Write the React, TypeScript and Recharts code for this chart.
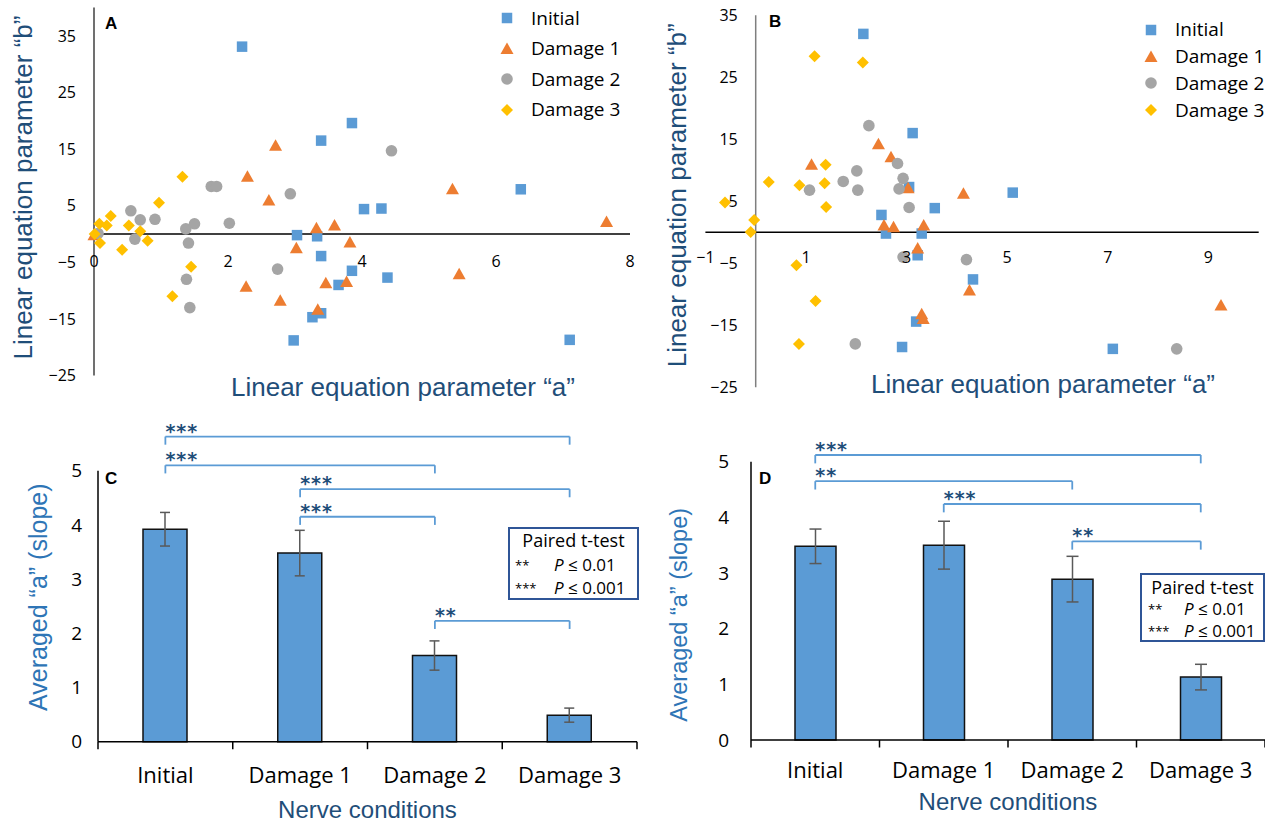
import React from "react";
import {
  Bar,
  BarChart,
  ErrorBar,
  Label,
  Legend,
  ReferenceDot,
  ReferenceLine,
  Scatter,
  ScatterChart,
  XAxis,
  YAxis,
} from "recharts";

type Pt = { a: number; b: number };
type Bracket = { from: string; to: string; level: number; stars: string };

const seriesNames = ["Initial", "Damage 1", "Damage 2", "Damage 3"];
const seriesColors = ["#5B9BD5", "#ED7D31", "#A5A5A5", "#FFC000"];
const seriesMarkers = ["square", "triangle", "circle", "diamond"];

// panel A scatter (a = slope, b = intercept)
const panelAInitial: Pt[] = [
  { a: 2.21, b: 33.1 }, { a: 3.85, b: 19.6 }, { a: 3.39, b: 16.5 }, { a: 4.03, b: 4.4 },
  { a: 4.29, b: 4.5 }, { a: 6.37, b: 7.9 }, { a: 3.03, b: -0.2 }, { a: 3.33, b: -0.4 },
  { a: 3.39, b: -3.9 }, { a: 3.85, b: -6.5 }, { a: 4.38, b: -7.7 }, { a: 3.65, b: -9.0 },
  { a: 3.26, b: -14.7 }, { a: 3.39, b: -14.0 }, { a: 2.98, b: -18.8 }, { a: 7.1, b: -18.7 },
];
const panelADamage1: Pt[] = [
  { a: 0.0, b: -0.2 }, { a: 2.71, b: 15.6 }, { a: 2.29, b: 10.1 }, { a: 2.61, b: 5.9 },
  { a: 5.35, b: 7.9 }, { a: 7.65, b: 2.1 }, { a: 3.32, b: 1.0 }, { a: 3.59, b: 1.5 },
  { a: 3.82, b: -1.5 }, { a: 3.02, b: -2.5 }, { a: 5.45, b: -7.1 }, { a: 2.27, b: -9.3 },
  { a: 2.78, b: -11.8 }, { a: 3.46, b: -8.7 }, { a: 3.77, b: -8.5 }, { a: 3.34, b: -13.4 },
];
const panelADamage2: Pt[] = [
  { a: 4.44, b: 14.7 }, { a: 1.75, b: 8.4 }, { a: 1.83, b: 8.4 }, { a: 2.93, b: 7.1 },
  { a: 0.55, b: 4.1 }, { a: 0.69, b: 2.5 }, { a: 0.91, b: 2.6 }, { a: 1.37, b: 0.9 },
  { a: 1.5, b: 1.8 }, { a: 2.02, b: 1.9 }, { a: 0.06, b: 0.1 }, { a: 0.61, b: -0.9 },
  { a: 1.41, b: -1.6 }, { a: 2.74, b: -6.2 }, { a: 1.38, b: -8.0 }, { a: 1.43, b: -13.0 },
];
const panelADamage3: Pt[] = [
  { a: 1.32, b: 10.1 }, { a: 0.97, b: 5.5 }, { a: 0.25, b: 3.2 }, { a: 0.08, b: 1.8 },
  { a: 0.19, b: 1.5 }, { a: 0.52, b: 1.5 }, { a: 0.69, b: 0.5 }, { a: 0.01, b: 0.0 },
  { a: 0.09, b: -1.6 }, { a: 0.8, b: -1.2 }, { a: 0.42, b: -2.8 }, { a: 1.45, b: -5.8 },
  { a: 1.17, b: -11.0 },
];

// panel B scatter
const panelBInitial: Pt[] = [
  { a: 2.14, b: 32.0 }, { a: 3.12, b: 16.0 }, { a: 3.05, b: 7.3 }, { a: 5.11, b: 6.4 },
  { a: 3.56, b: 3.9 }, { a: 2.5, b: 2.8 }, { a: 2.59, b: -0.2 }, { a: 3.3, b: -0.2 },
  { a: 3.22, b: -3.7 }, { a: 4.32, b: -7.6 }, { a: 3.19, b: -14.4 }, { a: 2.91, b: -18.5 },
  { a: 7.1, b: -18.8 },
];
const panelBDamage1: Pt[] = [
  { a: 1.11, b: 10.9 }, { a: 2.44, b: 14.2 }, { a: 2.69, b: 12.1 }, { a: 3.03, b: 7.1 },
  { a: 4.13, b: 6.2 }, { a: 2.55, b: 1.1 }, { a: 2.74, b: 0.8 }, { a: 3.34, b: 1.1 },
  { a: 3.22, b: -2.6 }, { a: 4.25, b: -9.4 }, { a: 3.3, b: -13.2 }, { a: 3.33, b: -14.0 },
  { a: 9.25, b: -11.8 },
];
const panelBDamage2: Pt[] = [
  { a: 2.25, b: 17.2 }, { a: 2.82, b: 11.1 }, { a: 2.01, b: 9.9 }, { a: 1.74, b: 8.2 },
  { a: 1.07, b: 6.8 }, { a: 2.03, b: 6.8 }, { a: 2.93, b: 8.7 }, { a: 2.85, b: 7.0 },
  { a: 3.05, b: 4.0 }, { a: 2.93, b: -4.0 }, { a: 4.19, b: -4.4 }, { a: 1.98, b: -18.0 },
  { a: 8.37, b: -18.8 },
];
const panelBDamage3: Pt[] = [
  { a: 1.17, b: 28.4 }, { a: 2.13, b: 27.4 }, { a: 0.26, b: 8.1 }, { a: 0.87, b: 7.6 },
  { a: 1.39, b: 10.9 }, { a: 1.37, b: 7.9 }, { a: 1.4, b: 4.1 }, { a: -0.61, b: 4.8 },
  { a: -0.03, b: 2.0 }, { a: -0.1, b: 0.05 }, { a: 0.81, b: -5.3 }, { a: 1.19, b: -11.1 },
  { a: 0.86, b: -18.0 },
];

const panelAXTicks = [0, 2, 4, 6, 8];
const panelAYTicks = [-25, -15, -5, 5, 15, 25, 35];
const panelBXTicks = [-1, 1, 3, 5, 7, 9];
const panelBYTicks = [-25, -15, -5, 5, 15, 25, 35];

// bar panels
const conditions = ["Initial", "Damage 1", "Damage 2", "Damage 3"];
const slopeC = [3.92, 3.48, 1.59, 0.49];
const slopeErrC = [0.31, 0.42, 0.27, 0.13];
const slopeD = [3.48, 3.5, 2.89, 1.13];
const slopeErrD = [0.31, 0.43, 0.41, 0.23];
const slopeTicks = [0, 1, 2, 3, 4, 5];

const bracketsC: Bracket[] = [
  { from: "Initial", to: "Damage 3", level: 5.63, stars: "***" },
  { from: "Initial", to: "Damage 2", level: 5.1, stars: "***" },
  { from: "Damage 1", to: "Damage 3", level: 4.66, stars: "***" },
  { from: "Damage 1", to: "Damage 2", level: 4.15, stars: "***" },
  { from: "Damage 2", to: "Damage 3", level: 2.23, stars: "**" },
];
const bracketsD: Bracket[] = [
  { from: "Initial", to: "Damage 3", level: 5.12, stars: "***" },
  { from: "Initial", to: "Damage 2", level: 4.65, stars: "**" },
  { from: "Damage 1", to: "Damage 3", level: 4.24, stars: "***" },
  { from: "Damage 2", to: "Damage 3", level: 3.57, stars: "**" },
];

const tableC = conditions.map((name, i) => ({ name, value: slopeC[i], err: slopeErrC[i] }));
const tableD = conditions.map((name, i) => ({ name, value: slopeD[i], err: slopeErrD[i] }));

const TITLE_DARK = "#1F4E79";
const TITLE_BLUE = "#2E75B6";
const TICK_FONT = "Open Sans";
const TITLE_FONT = "Liberation Sans";

const fmtTick = (v: number) => (v < 0 ? `\u2212${Math.abs(v)}` : `${v}`);

function Marker({ kind, cx, cy, fill }: { kind: string; cx: number; cy: number; fill: string }) {
  if (kind === "square") {
    return <rect x={cx - 5.25} y={cy - 5.25} width={10.5} height={10.5} fill={fill} />;
  }
  if (kind === "triangle") {
    return <polygon points={`${cx},${cy - 6.5} ${cx + 6.5},${cy + 5} ${cx - 6.5},${cy + 5}`} fill={fill} />;
  }
  if (kind === "circle") {
    return <circle cx={cx} cy={cy} r={5.8} fill={fill} />;
  }
  return <polygon points={`${cx},${cy - 6} ${cx + 6},${cy} ${cx},${cy + 6} ${cx - 6},${cy}`} fill={fill} />;
}

const makeLegend = (rowHeight: number) => (props: any) => {
  const items = [...(props.payload || [])].sort(
    (p: any, q: any) => seriesNames.indexOf(p.value) - seriesNames.indexOf(q.value)
  );
  return (
    <div style={{ fontFamily: TICK_FONT, fontSize: 19, color: "#000" }}>
      {items.map((entry: any) => {
        const i = seriesNames.indexOf(entry.value);
        return (
          <div key={entry.value} style={{ display: "flex", alignItems: "center", height: rowHeight }}>
            <svg width={16} height={16}>
              <Marker kind={seriesMarkers[i]} cx={8} cy={8} fill={seriesColors[i]} />
            </svg>
            <span style={{ marginLeft: 16, lineHeight: 1 }}>{entry.value}</span>
          </div>
        );
      })}
    </div>
  );
};

function scatterSeries(groups: Pt[][]) {
  return groups.map((pts, i) => (
    <Scatter
      key={seriesNames[i]}
      name={seriesNames[i]}
      data={pts}
      fill={seriesColors[i]}
      isAnimationActive={false}
      shape={(p: any) => <Marker kind={seriesMarkers[i]} cx={p.cx} cy={p.cy} fill={seriesColors[i]} />}
    />
  ));
}

function CategoryTick(props: any) {
  const { x, y, payload, index, visibleTicksCount, labelDrop, markLen, fontSize } = props;
  const half = payload?.offset ?? 0;
  const last = index === visibleTicksCount - 1;
  return (
    <g>
      <line x1={x - half} x2={x - half} y1={y} y2={y + markLen} stroke="#000" strokeWidth={1.5} />
      {last && <line x1={x + half} x2={x + half} y1={y} y2={y + markLen} stroke="#000" strokeWidth={1.5} />}
      <text x={x} y={y + labelDrop} textAnchor="middle" fill="#000" fontSize={fontSize} fontFamily={TICK_FONT}>
        {payload.value}
      </text>
    </g>
  );
}

function bracketMarks(list: Bracket[], drop: number, key: string) {
  const line = { stroke: "#5B9BD5", strokeWidth: 1.8, ifOverflow: "visible" as const };
  return list.flatMap((br, i) => [
    <ReferenceLine
      key={`${key}-h${i}`}
      segment={[{ x: br.from, y: br.level }, { x: br.to, y: br.level }]}
      {...line}
      label={{
        value: br.stars,
        position: "insideBottomLeft",
        offset: 0,
        dy: 1,
        fill: TITLE_DARK,
        fontSize: 19,
        fontWeight: "bold",
        letterSpacing: 1,
        fontFamily: "DejaVu Sans",
      }}
    />,
    <ReferenceLine
      key={`${key}-l${i}`}
      segment={[{ x: br.from, y: br.level }, { x: br.from, y: br.level - drop }]}
      {...line}
    />,
    <ReferenceLine
      key={`${key}-r${i}`}
      segment={[{ x: br.to, y: br.level }, { x: br.to, y: br.level - drop }]}
      {...line}
    />,
  ]);
}

function PanelA() {
  return (
    <ScatterChart width={650} height={410} margin={{ top: 7.6, right: 20, bottom: 10, left: 19 }}>
      <XAxis type="number" dataKey="a" domain={[0, 8]} ticks={panelAXTicks} tick={false} tickLine={false} axisLine={false} height={24.5}>
        <Label
          value="Linear equation parameter “a”"
          position="insideTop"
          offset={2}
          dx={41}
          fill={TITLE_DARK}
          fontSize={26}
          fontFamily={TITLE_FONT}
        />
      </XAxis>
      <YAxis
        type="number"
        dataKey="b"
        domain={[-25, 40]}
        ticks={panelAYTicks}
        width={75}
        tickLine={false}
        tickMargin={12}
        tickFormatter={fmtTick}
        axisLine={{ stroke: "#404040", strokeWidth: 1.5 }}
        tick={{ fill: "#000", fontSize: 16, fontFamily: TICK_FONT }}
      >
        <Label
          value="Linear equation parameter “b”"
          angle={-90}
          position="insideLeft"
          offset={4}
          dy={-4}
          fill={TITLE_DARK}
          fontSize={26}
          fontFamily={TITLE_FONT}
          style={{ textAnchor: "middle" }}
        />
      </YAxis>
      <ReferenceLine y={0} stroke="#000" strokeWidth={1.5} />
      {panelAXTicks.map((v) => (
        <ReferenceDot
          key={`ax${v}`}
          x={v}
          y={0}
          r={0}
          fill="none"
          stroke="none"
          label={{ value: fmtTick(v), position: "bottom", offset: 21.6, fill: "#000", fontSize: 16, fontFamily: TICK_FONT }}
        />
      ))}
      {scatterSeries([panelAInitial, panelADamage1, panelADamage2, panelADamage3])}
      <Legend
        layout="vertical"
        align="center"
        verticalAlign="middle"
        wrapperStyle={{ left: 499, top: 2.75, width: 150 }}
        content={makeLegend(30.5)}
      />
    </ScatterChart>
  );
}

function PanelB() {
  return (
    <ScatterChart width={625} height={410} margin={{ top: 15.3, right: 6.3, bottom: 0, left: 5.4 }}>
      <XAxis type="number" dataKey="a" domain={[-1, 10]} ticks={panelBXTicks} tick={false} tickLine={false} axisLine={false} height={22.7}>
        <Label
          value="Linear equation parameter “a”"
          position="insideTop"
          offset={-12.8}
          dx={61}
          fill={TITLE_DARK}
          fontSize={26}
          fontFamily={TITLE_FONT}
        />
      </XAxis>
      <YAxis type="number" dataKey="b" domain={[-25, 35]} ticks={panelBYTicks} width={60} tick={false} tickLine={false} axisLine={false}>
        <Label
          value="Linear equation parameter “b”"
          angle={-90}
          position="insideLeft"
          offset={31.6}
          dy={-6}
          fill={TITLE_DARK}
          fontSize={26}
          fontFamily={TITLE_FONT}
          style={{ textAnchor: "middle" }}
        />
      </YAxis>
      <ReferenceLine x={0} stroke="#7f7f7f" strokeWidth={1.5} />
      <ReferenceLine y={0} stroke="#000" strokeWidth={1.5} />
      {panelBXTicks.map((v) => (
        <ReferenceDot
          key={`bx${v}`}
          x={v}
          y={0}
          r={0}
          fill="none"
          stroke="none"
          label={{ value: fmtTick(v), position: "bottom", offset: 19.6, fill: "#000", fontSize: 16, fontFamily: TICK_FONT }}
        />
      ))}
      {panelBYTicks.map((v) => (
        <ReferenceDot
          key={`by${v}`}
          x={0}
          y={v}
          r={0}
          fill="none"
          stroke="none"
          label={{ value: fmtTick(v), position: "left", offset: 18, fill: "#000", fontSize: 16, fontFamily: TICK_FONT }}
        />
      ))}
      {scatterSeries([panelBInitial, panelBDamage1, panelBDamage2, panelBDamage3])}
      <Legend
        layout="vertical"
        align="center"
        verticalAlign="middle"
        wrapperStyle={{ left: 503, top: 16.6, width: 150 }}
        content={makeLegend(26.7)}
      />
    </ScatterChart>
  );
}

function SlopeBars({
  data,
  brackets,
  margin,
  yWidth,
  yTickMargin,
  labelDrop,
  titleOffset,
  yTitleDy,
  yTitleSize,
  barSize,
  capWidth,
}: any) {
  return (
    <BarChart width={margin.width} height={414} data={data} margin={margin.m} barSize={barSize}>
      <XAxis
        dataKey="name"
        height={80}
        interval={0}
        tickLine={false}
        tickSize={0}
        tickMargin={0}
        axisLine={{ stroke: "#000", strokeWidth: 1.5 }}
        tick={(p: any) => <CategoryTick {...p} labelDrop={labelDrop} markLen={7.5} fontSize={22} />}
      >
        <Label
          value="Nerve conditions"
          position="insideBottom"
          offset={titleOffset}
          fill={TITLE_DARK}
          fontSize={24}
          fontFamily={TITLE_FONT}
        />
      </XAxis>
      <YAxis
        type="number"
        domain={[0, 5]}
        ticks={slopeTicks}
        width={yWidth}
        tickLine={false}
        tickMargin={yTickMargin}
        axisLine={{ stroke: "#000", strokeWidth: 1.5 }}
        tick={{ fill: "#000", fontSize: 19, fontFamily: TICK_FONT }}
      >
        <Label
          value="Averaged “a” (slope)"
          angle={-90}
          position="insideLeft"
          offset={0}
          dy={yTitleDy}
          fill={TITLE_BLUE}
          fontSize={yTitleSize}
          fontFamily={TITLE_FONT}
          style={{ textAnchor: "middle" }}
        />
      </YAxis>
      <Bar dataKey="value" fill="#5B9BD5" stroke="#111" strokeWidth={1.5} isAnimationActive={false}>
        <ErrorBar dataKey="err" width={capWidth} stroke="#595959" strokeWidth={1.5} direction="y" />
      </Bar>
      {bracketMarks(brackets, 0.15, "br")}
    </BarChart>
  );
}

function TTestBox({ left, top, width, height, rowTops, starLeft, pLeft }: any) {
  return (
    <div
      style={{
        position: "absolute",
        left,
        top,
        width,
        height,
        boxSizing: "border-box",
        border: "2px solid #2F5597",
        background: "#fff",
        fontFamily: TICK_FONT,
        color: "#000",
      }}
    >
      <div style={{ position: "absolute", left: 0, right: 0, top: rowTops[0], textAlign: "center", fontSize: 18, lineHeight: "20px" }}>
        Paired t-test
      </div>
      {["**", "***"].map((s, i) => (
        <React.Fragment key={s}>
          <div style={{ position: "absolute", left: starLeft, top: rowTops[i + 1], fontSize: 13, lineHeight: "20px" }}>{s}</div>
          <div style={{ position: "absolute", left: pLeft, top: rowTops[i + 1], fontSize: 17, lineHeight: "20px", whiteSpace: "nowrap" }}>
            <i>P</i> ≤ {i === 0 ? "0.01" : "0.001"}
          </div>
        </React.Fragment>
      ))}
    </div>
  );
}

const letterStyle: React.CSSProperties = {
  position: "absolute",
  fontFamily: TITLE_FONT,
  fontWeight: "bold",
  fontSize: 17,
  lineHeight: 1,
  color: "#000",
};

export default function App() {
  return (
    <div style={{ position: "absolute", left: 0, top: 0, width: 1265, height: 824, background: "#fff", overflow: "hidden" }}>
      <div style={{ position: "absolute", left: 0, top: 0 }}>
        <PanelA />
      </div>
      <div style={{ position: "absolute", left: 640, top: 0 }}>
        <PanelB />
      </div>
      <div style={{ position: "absolute", left: 0, top: 410 }}>
        <SlopeBars
          data={tableC}
          brackets={bracketsC}
          margin={{ width: 640, m: { top: 60.7, right: 3, bottom: 2.3, left: 38 } }}
          yWidth={60}
          yTickMargin={10}
          labelDrop={41}
          titleOffset={3.7}
          yTitleDy={-9}
          yTitleSize={25}
          barSize={44}
          capWidth={5}
        />
      </div>
      <div style={{ position: "absolute", left: 640, top: 410 }}>
        <SlopeBars
          data={tableD}
          brackets={bracketsD}
          margin={{ width: 625, m: { top: 51.7, right: 0, bottom: 4, left: 39 } }}
          yWidth={72}
          yTickMargin={16}
          labelDrop={38}
          titleOffset={10}
          yTitleDy={14}
          yTitleSize={23.5}
          barSize={41}
          capWidth={6}
        />
      </div>
      <TTestBox left={508} top={527} width={131} height={73} rowTops={[1, 26, 49]} starLeft={5} pLeft={44} />
      <TTestBox left={1140} top={573} width={125} height={69} rowTops={[2, 24, 46]} starLeft={6} pLeft={42} />
      <span style={{ ...letterStyle, left: 105, top: 15 }}>A</span>
      <span style={{ ...letterStyle, left: 769, top: 13 }}>B</span>
      <span style={{ ...letterStyle, left: 105, top: 470 }}>C</span>
      <span style={{ ...letterStyle, left: 759, top: 470 }}>D</span>
    </div>
  );
}
